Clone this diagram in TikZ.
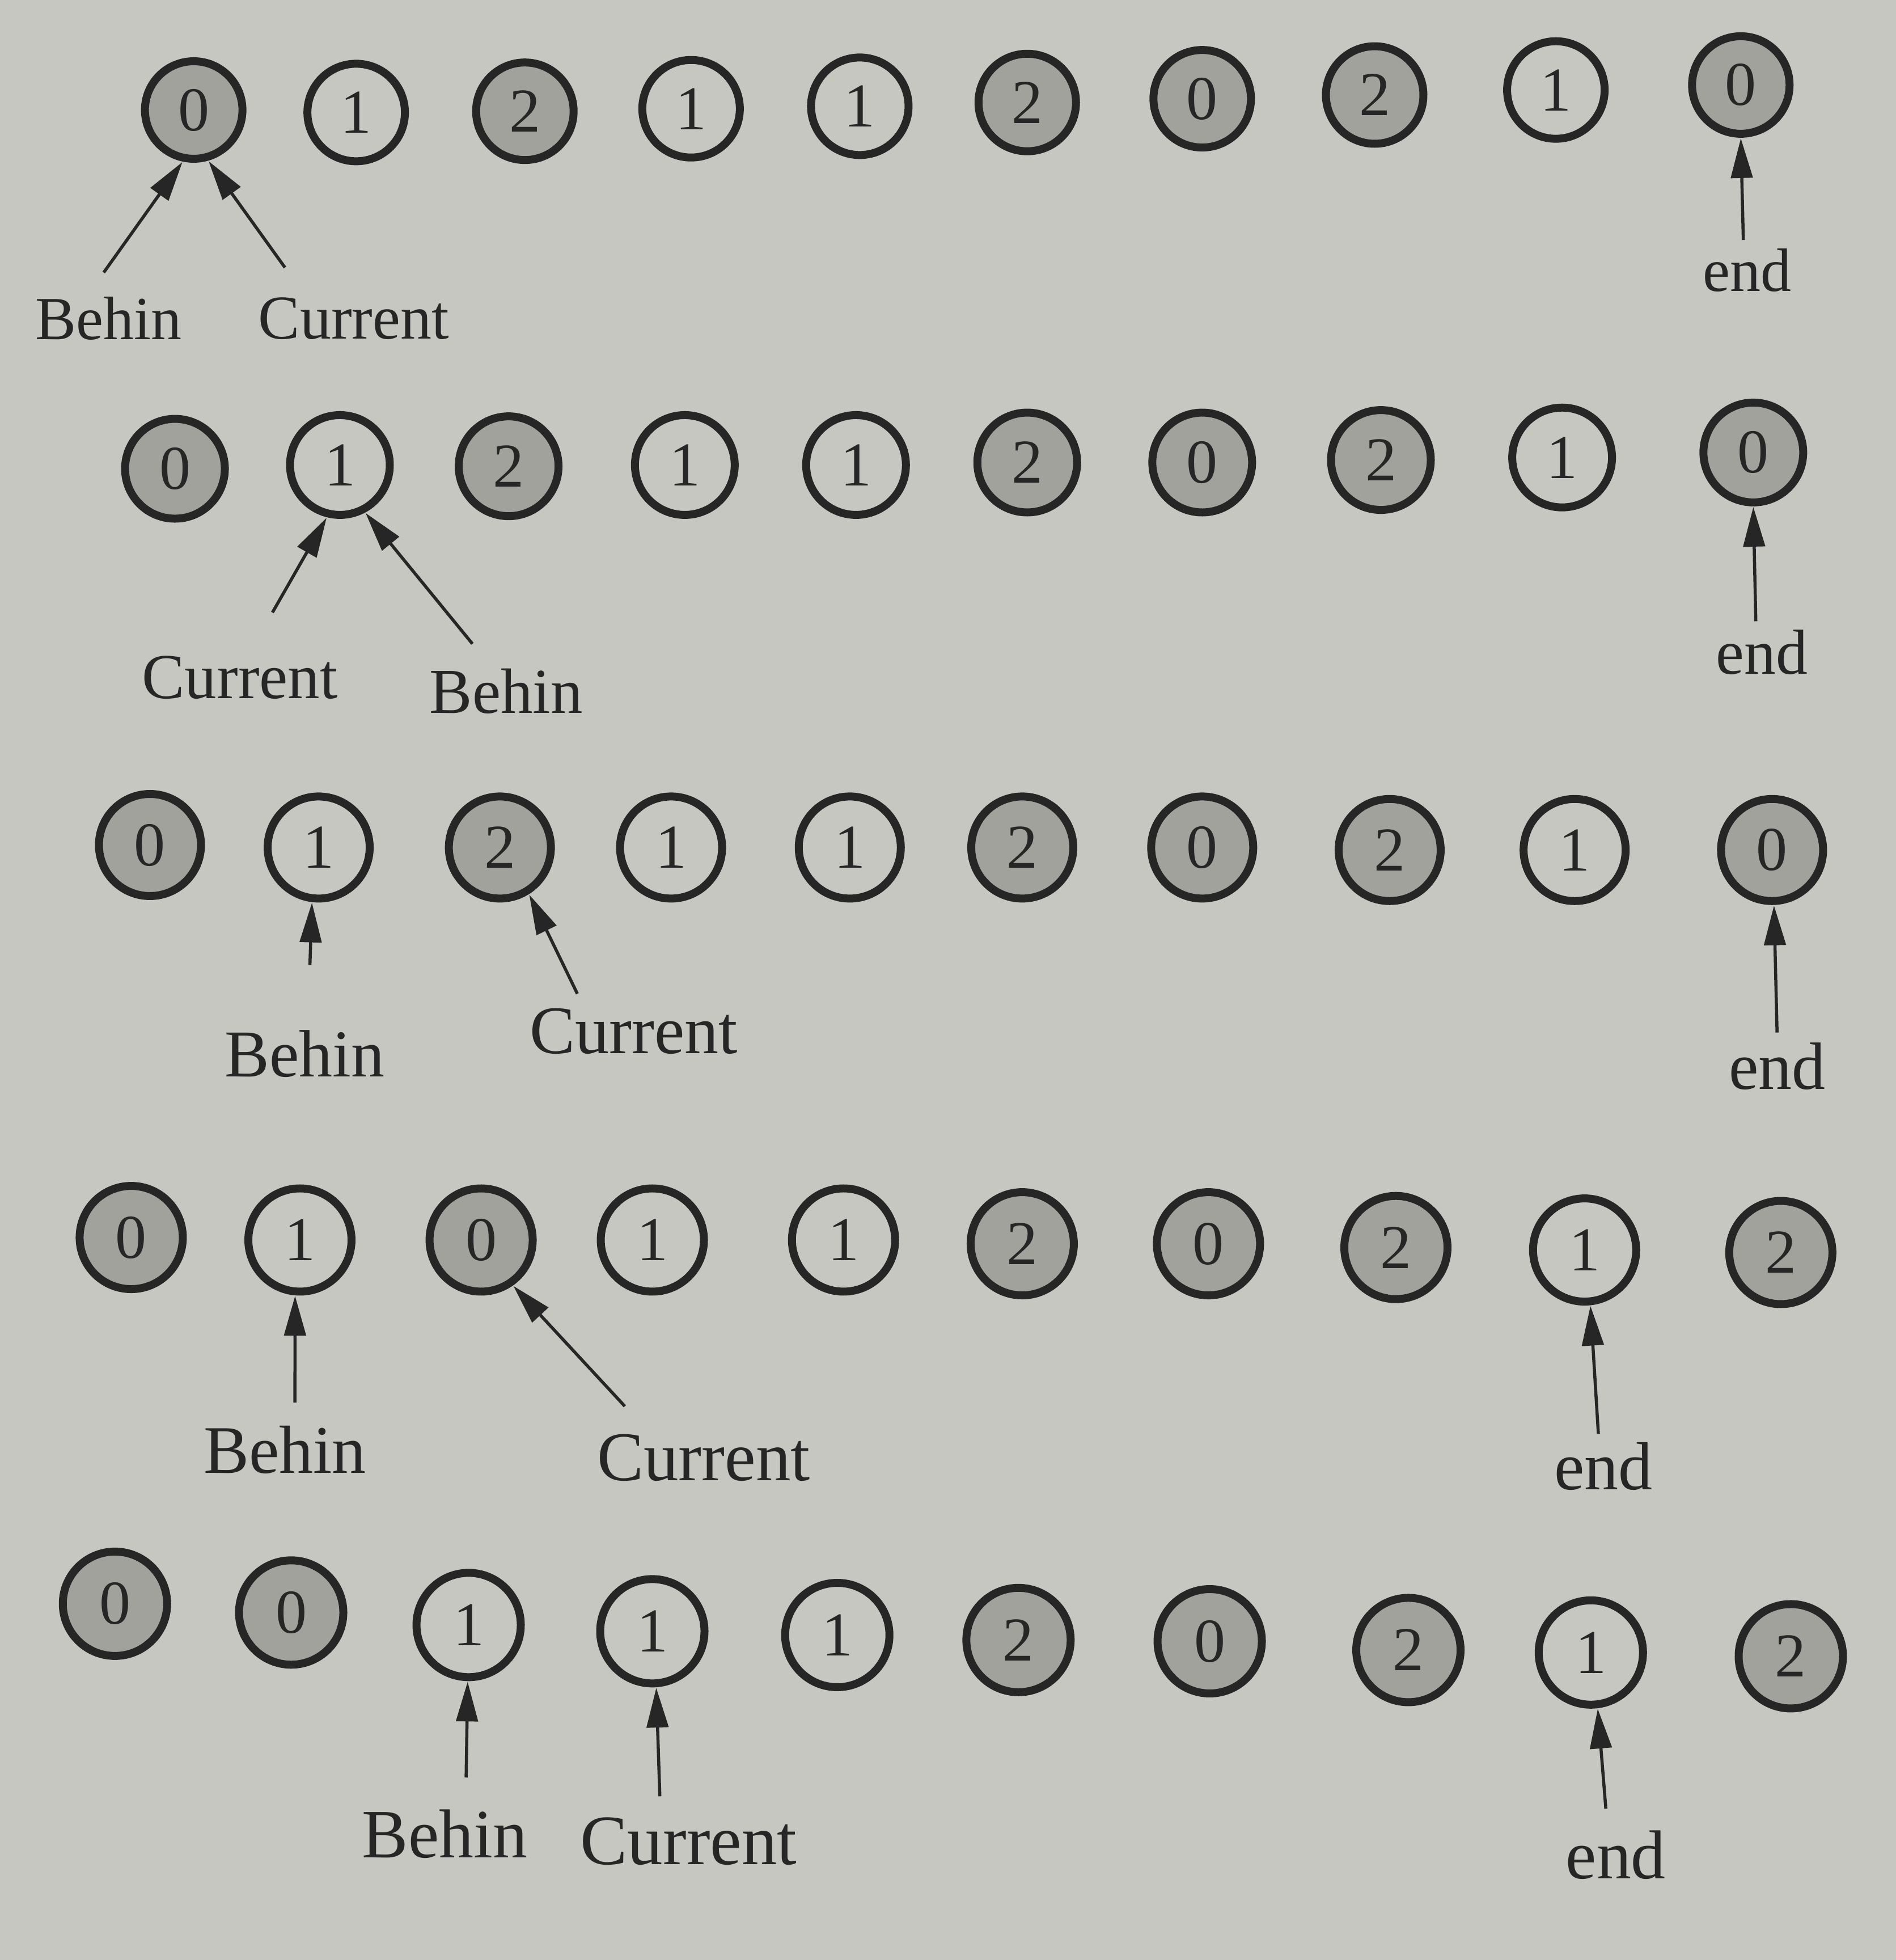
\documentclass[tikz,border=0pt]{standalone}
\usepackage{fontspec}
\setmainfont{Liberation Serif}
\usetikzlibrary{arrows.meta}
\definecolor{bg}{RGB}{199,199,193}
\definecolor{dotfill}{RGB}{162,162,157}
\definecolor{ink}{RGB}{38,38,38}
\newcommand\digitfnt{\fontsize{110}{114}\selectfont}
\tikzset{
  cnode/.style={circle, draw=ink, line width=14pt, inner sep=0pt, text=ink, font=\digitfnt},
  dk/.style={cnode, fill=dotfill, minimum size=#1},
  lt/.style={cnode, fill=bg, minimum size=#1},
  lbl/.style={text=ink, inner sep=0pt, font=\fontsize{#1}{#1}\selectfont},
  ptr/.style={draw=ink, line width=5.5pt, -{Triangle[length=70pt,width=38pt]}, shorten >=1pt}
}
\begin{document}
\begin{tikzpicture}[x=2.2044pt,y=-2.2044pt]
\useasboundingbox (0,0) rectangle (1517,1568);
\fill[bg] (0,0) rectangle (1517,1568);

% ---------- Row 1 ----------
\node[dk=172pt] (a1) at (155,88) {0};
\node[lt=172pt] (a2) at (285,90) {1};
\node[dk=172pt] (a3) at (420,89) {2};
\node[lt=172pt] (a4) at (553,87) {1};
\node[lt=172pt] (a5) at (688,85) {1};
\node[dk=172pt] (a6) at (822,82) {2};
\node[dk=172pt] (a7) at (962,79) {0};
\node[dk=172pt] (a8) at (1100,76) {2};
\node[lt=172pt] (a9) at (1245,72) {1};
\node[dk=172pt] (a10) at (1393,68) {0};
\node[lbl=108] (aB) at (87,255) {Behin};
\node[lbl=110] (aC) at (283,255) {Current};
\node[lbl=108] (aE) at (1398,216) {end};
\coordinate (aBs) at (83,218);
\coordinate (aCs) at (228,214);
\coordinate (aEs) at (1395,192);
\draw[ptr] (aBs) -- (a1.-102);
\draw[ptr] (aCs) -- (a1.-74);
\draw[ptr] (aEs) -- (a10.south);

% ---------- Row 2 ----------
\node[dk=176pt] (b1) at (140,375) {0};
\node[lt=176pt] (b2) at (272,372) {1};
\node[dk=176pt] (b3) at (407,373) {2};
\node[lt=176pt] (b4) at (548,372) {1};
\node[lt=176pt] (b5) at (685,372) {1};
\node[dk=176pt] (b6) at (822,370) {2};
\node[dk=176pt] (b7) at (962,370) {0};
\node[dk=176pt] (b8) at (1105,368) {2};
\node[lt=176pt] (b9) at (1250,366) {1};
\node[dk=176pt] (b10) at (1403,362) {0};
\node[lbl=113] (bC) at (192,542) {Current};
\node[lbl=113] (bB) at (405,553) {Behin};
\node[lbl=112] (bE) at (1410,522) {end};
\coordinate (bCs) at (218,490);
\coordinate (bBs) at (378,515);
\coordinate (bEs) at (1405,497);
\draw[ptr] (bCs) -- (b2.-104);
\draw[ptr] (bBs) -- (b2.-62);
\draw[ptr] (bEs) -- (b10.south);

% ---------- Row 3 ----------
\node[dk=180pt] (c1) at (120,676) {0};
\node[lt=180pt] (c2) at (255,678) {1};
\node[dk=180pt] (c3) at (400,678) {2};
\node[lt=180pt] (c4) at (537,678) {1};
\node[lt=180pt] (c5) at (680,678) {1};
\node[dk=180pt] (c6) at (818,678) {2};
\node[dk=180pt] (c7) at (962,678) {0};
\node[dk=180pt] (c8) at (1112,680) {2};
\node[lt=180pt] (c9) at (1260,680) {1};
\node[dk=180pt] (c10) at (1418,680) {0};
\node[lbl=118] (cB) at (244,843) {Behin};
\node[lbl=120] (cC) at (507,825) {Current};
\node[lbl=118] (cE) at (1422,853) {end};
\coordinate (cBs) at (248,772);
\coordinate (cCs) at (462,795);
\coordinate (cEs) at (1422,826);
\draw[ptr] (cBs) -- (c2.-97);
\draw[ptr] (cCs) -- (c3.-58);
\draw[ptr] (cEs) -- (c10.-88);

% ---------- Row 4 ----------
\node[dk=182pt] (d1) at (105,990) {0};
\node[lt=182pt] (d2) at (240,992) {1};
\node[dk=182pt] (d3) at (385,992) {0};
\node[lt=182pt] (d4) at (522,992) {1};
\node[lt=182pt] (d5) at (675,992) {1};
\node[dk=182pt] (d6) at (818,995) {2};
\node[dk=182pt] (d7) at (967,995) {0};
\node[dk=182pt] (d8) at (1117,998) {2};
\node[lt=182pt] (d9) at (1268,1000) {1};
\node[dk=182pt] (d10) at (1425,1002) {2};
\node[lbl=120] (dB) at (228,1160) {Behin};
\node[lbl=123] (dC) at (563,1166) {Current};
\node[lbl=120] (dE) at (1283,1173) {end};
\coordinate (dBs) at (236,1122);
\coordinate (dCs) at (500,1125);
\coordinate (dEs) at (1279,1147);
\draw[ptr] (dBs) -- (d2.-95);
\draw[ptr] (dCs) -- (d3.-55);
\draw[ptr] (dEs) -- (d9.-84);

% ---------- Row 5 ----------
\node[dk=184pt] (e1) at (92,1283) {0};
\node[dk=184pt] (e2) at (233,1290) {0};
\node[lt=184pt] (e3) at (375,1300) {1};
\node[lt=184pt] (e4) at (522,1305) {1};
\node[lt=184pt] (e5) at (670,1308) {1};
\node[dk=184pt] (e6) at (815,1312) {2};
\node[dk=184pt] (e7) at (968,1313) {0};
\node[dk=184pt] (e8) at (1127,1320) {2};
\node[lt=184pt] (e9) at (1273,1322) {1};
\node[dk=184pt] (e10) at (1433,1325) {2};
\node[lbl=122] (eB) at (356,1467) {Behin};
\node[lbl=125] (eC) at (551,1473) {Current};
\node[lbl=122] (eE) at (1293,1484) {end};
\coordinate (eBs) at (373,1422);
\coordinate (eCs) at (528,1437);
\coordinate (eEs) at (1285,1447);
\draw[ptr] (eBs) -- (e3.-91);
\draw[ptr] (eCs) -- (e4.-86);
\draw[ptr] (eEs) -- (e9.-83);
\end{tikzpicture}
\end{document}
